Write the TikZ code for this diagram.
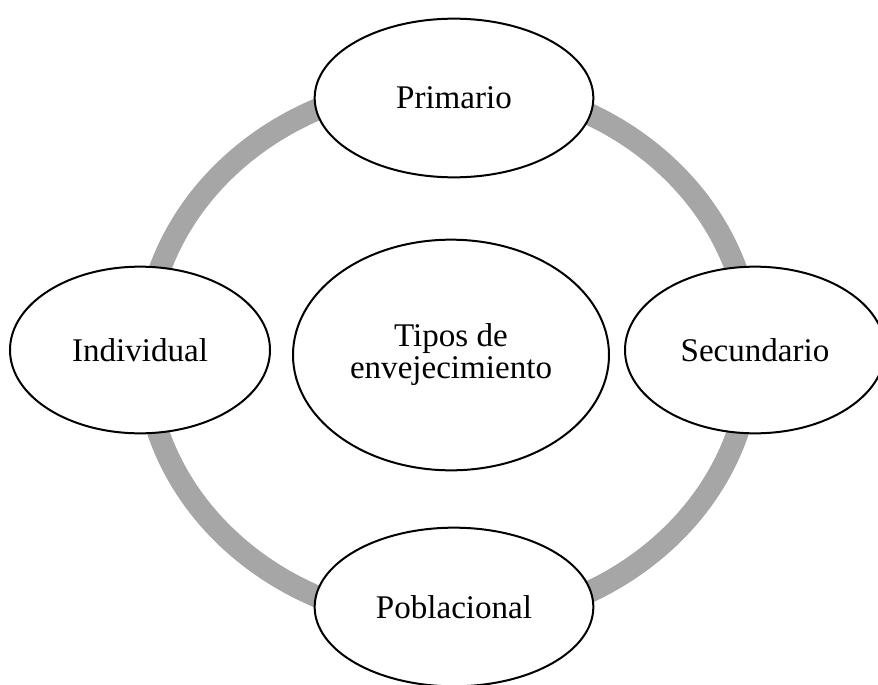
\documentclass[tikz,border=0pt]{standalone}
\usepackage{fontspec}
\setmainfont{Liberation Serif}
\usetikzlibrary{shapes.geometric}
\definecolor{ringgray}{HTML}{A6A6A6}
\tikzset{
  petal/.style={ellipse, draw=black, line width=1.5pt, fill=white, inner sep=0pt,
    minimum width=209pt, minimum height=119pt, font=\fontsize{24.8}{24}\selectfont},
  hub/.style={petal, minimum width=237pt, minimum height=173pt, align=center}
}
\begin{document}
\begin{tikzpicture}[x=0.75pt,y=-0.75pt]
  \useasboundingbox (0,0) rectangle (878,685);
  \clip (0,0) rectangle (878,685);
  \draw [ringgray, line width=16.5pt] (448,353) ellipse [x radius=303, y radius=270];
  \node [hub] (tipos) at (451,355) {Tipos de\\envejecimiento};
  \node [petal] (primario) at (454,98) {Primario};
  \node [petal, minimum width=195pt, minimum height=125pt] (individual) at (140,350) {Individual};
  \node [petal, minimum width=195pt, minimum height=125pt] (secundario) at (755,350) {Secundario};
  \node [petal] (poblacional) at (454,607) {Poblacional};
\end{tikzpicture}
\end{document}
